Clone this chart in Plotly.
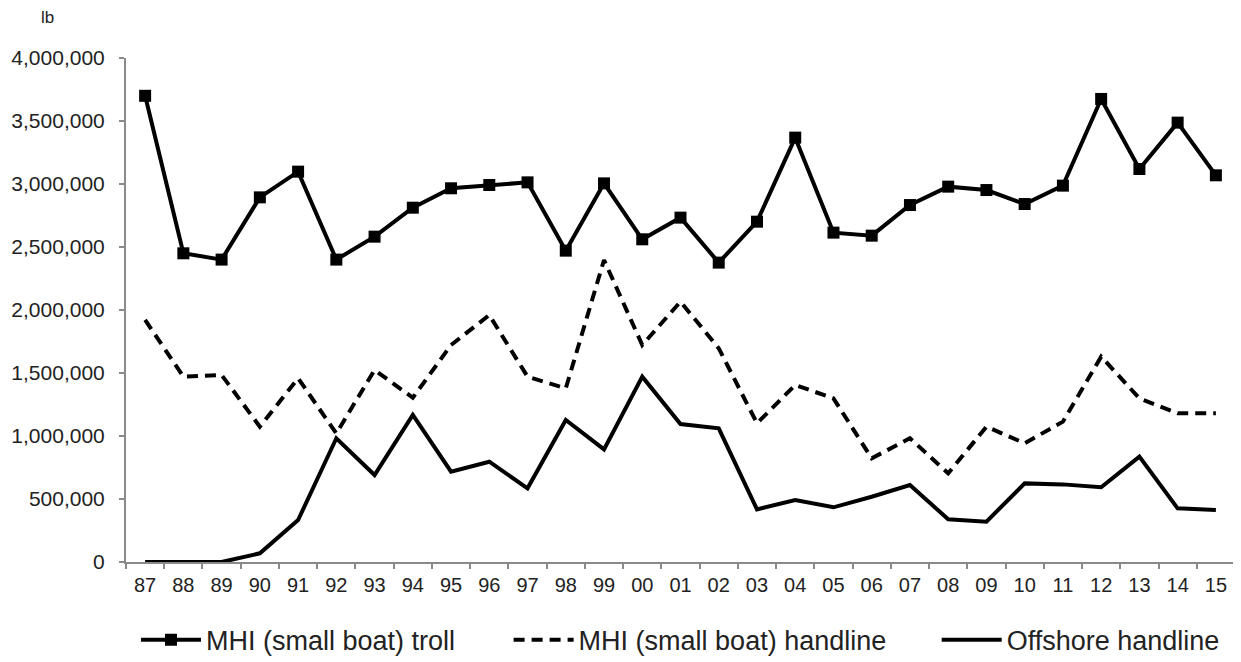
import plotly.graph_objects as go

years = ["87", "88", "89", "90", "91", "92", "93", "94", "95", "96", "97", "98", "99", "00",
         "01", "02", "03", "04", "05", "06", "07", "08", "09", "10", "11", "12", "13", "14", "15"]

mhi_troll = [3700000, 2450000, 2400000, 2894000, 3098000, 2400000, 2582000, 2812000, 2966000,
             2992000, 3013000, 2471000, 3005000, 2561000, 2733000, 2376000, 2701000, 3368000,
             2614000, 2590000, 2833000, 2979000, 2952000, 2841000, 2987000, 3675000, 3119000,
             3487000, 3069000]

mhi_handline = [1921000, 1471000, 1484000, 1074000, 1458000, 1021000, 1524000, 1304000, 1722000,
                1960000, 1471000, 1378000, 2397000, 1722000, 2066000, 1696000, 1101000, 1405000,
                1299000, 823000, 982000, 704000, 1074000, 942000, 1114000, 1630000, 1299000,
                1180000, 1180000]

offshore_handline = [0, 0, 0, 69000, 333000, 982000, 690000, 1167000, 717000, 796000, 585000,
                     1127000, 894000, 1471000, 1095000, 1061000, 418000, 492000, 434000, 518000,
                     611000, 339000, 320000, 624000, 616000, 593000, 836000, 426000, 413000]

y_ticks = [0, 500000, 1000000, 1500000, 2000000, 2500000, 3000000, 3500000, 4000000]
y_tick_labels = ["0", "500,000", "1,000,000", "1,500,000", "2,000,000", "2,500,000",
                 "3,000,000", "3,500,000", "4,000,000"]

fig = go.Figure()
fig.add_trace(go.Scatter(
    x=years, y=mhi_troll, name="MHI (small boat) troll", mode="lines+markers",
    line=dict(color="black", width=4), marker=dict(symbol="square", size=12, color="black"),
    legend="legend"))
fig.add_trace(go.Scatter(
    x=years, y=mhi_handline, name="MHI (small boat) handline", mode="lines",
    line=dict(color="black", width=4, dash="11px,7px"), legend="legend2"))
fig.add_trace(go.Scatter(
    x=years, y=offshore_handline, name="Offshore handline", mode="lines",
    line=dict(color="black", width=4), legend="legend3"))

font_family = "Liberation Sans, Arial, sans-serif"
txt = "#222222"
axc = "#8a8a8a"

leg_common = dict(orientation="h", xanchor="left", y=-0.155, yanchor="middle",
                  font=dict(size=27, color=txt, family=font_family), itemwidth=60,
                  bgcolor="rgba(0,0,0,0)")

fig.update_layout(
    width=1241, height=690,
    margin=dict(l=118, r=14, t=50, b=136),
    plot_bgcolor="white", paper_bgcolor="white",
    font=dict(family=font_family, size=20, color=txt),
    showlegend=True,
    legend=dict(x=0.009, **leg_common),
    legend2=dict(x=0.345, **leg_common),
    legend3=dict(x=0.731, **leg_common),
    xaxis=dict(type="category", showline=True, linecolor=axc, linewidth=2,
               ticks="outside", tickson="boundaries", ticklen=5, tickcolor=axc,
               tickwidth=2, showgrid=False, zeroline=False, ticklabelstandoff=4,
               automargin=False, tickfont=dict(size=20, color=txt), range=[-0.5, 28.5]),
    yaxis=dict(range=[0, 4000000], tickvals=y_ticks, ticktext=y_tick_labels,
               showline=True, linecolor=axc, linewidth=2, ticks="outside",
               ticklen=5, tickcolor=axc, tickwidth=2, showgrid=False, automargin=False,
               zeroline=False, ticklabelstandoff=10, tickfont=dict(size=21, color=txt)),
    annotations=[dict(text="lb", xref="paper", yref="paper", x=-0.0712, y=1.081,
                      xanchor="center", yanchor="middle", showarrow=False,
                      font=dict(size=17, color=txt))],
)

fig.write_html("out.html")
